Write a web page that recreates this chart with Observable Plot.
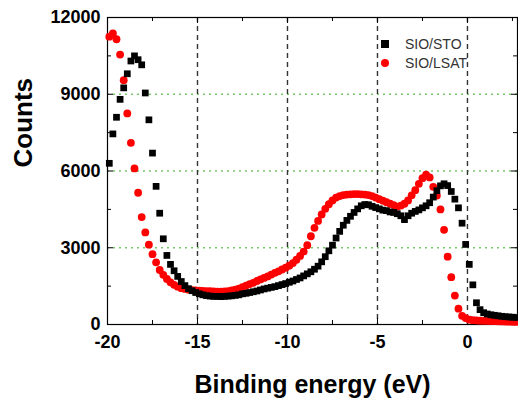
<!DOCTYPE html>
<html><head><meta charset="utf-8">
<script src="https://cdn.jsdelivr.net/npm/d3@7"></script>
<script src="https://cdn.jsdelivr.net/npm/@observablehq/plot@0.6"></script>
<style>
body{margin:0;background:#fff;}
#wrap{position:relative;width:518px;height:405px;font-family:"Liberation Sans",Arial,sans-serif;}
.leg{position:absolute;display:flex;align-items:center;font-size:14px;color:#333;white-space:nowrap;}
.mk{display:inline-block;margin-right:16px;}
</style></head><body><div id="wrap"></div>
<script>
const energy = [
-19.9,-19.7,-19.5,-19.3,-19.1,-18.9,-18.7,-18.5,-18.3,-18.1,
-17.9,-17.7,-17.5,-17.3,-17.1,-16.9,-16.7,-16.5,-16.3,-16.1,
-15.9,-15.7,-15.5,-15.3,-15.1,-14.9,-14.7,-14.5,-14.3,-14.1,
-13.9,-13.7,-13.5,-13.3,-13.1,-12.9,-12.7,-12.5,-12.3,-12.1,
-11.9,-11.7,-11.5,-11.3,-11.1,-10.9,-10.7,-10.5,-10.3,-10.1,
-9.9,-9.7,-9.5,-9.3,-9.1,-8.9,-8.7,-8.5,-8.3,-8.1,
-7.9,-7.7,-7.5,-7.3,-7.1,-6.9,-6.7,-6.5,-6.3,-6.1,
-5.9,-5.7,-5.5,-5.3,-5.1,-4.9,-4.7,-4.5,-4.3,-4.1,
-3.9,-3.7,-3.5,-3.3,-3.1,-2.9,-2.7,-2.5,-2.3,-2.1,
-1.9,-1.7,-1.5,-1.3,-1.1,-0.9,-0.7,-0.5,-0.3,-0.1,
0.1,0.3,0.5,0.7,0.9,1.1,1.3,1.5,1.7,1.9,
2.1,2.3,2.5,2.7];

const stoCounts = [
6300,7450,8100,8800,9250,9800,10300,10500,10350,10150,
9050,8000,6700,5400,4350,3350,2700,2350,2100,1880,
1680,1520,1400,1320,1250,1200,1160,1130,1110,1100,
1100,1090,1100,1110,1120,1140,1160,1200,1220,1250,
1280,1310,1350,1390,1420,1450,1480,1520,1560,1600,
1650,1700,1760,1820,1900,1980,2060,2160,2280,2450,
2650,2880,3100,3380,3640,3880,4070,4230,4380,4520,
4640,4690,4680,4620,4570,4520,4470,4450,4400,4380,
4330,4250,4100,4250,4350,4420,4480,4560,4640,4760,
4980,5230,5420,5500,5430,5200,4900,4560,3960,3130,
2350,1550,850,580,460,410,380,360,340,320,
305,295,285,275];

const lsatCounts = [
11250,11380,11150,10550,9550,8250,7100,6100,5150,4200,
3600,3120,2750,2430,2130,1940,1780,1650,1550,1480,
1420,1390,1360,1340,1330,1320,1310,1300,1300,1290,
1280,1280,1290,1300,1330,1360,1400,1460,1520,1580,
1630,1700,1760,1820,1880,1950,2020,2080,2150,2220,
2300,2400,2530,2680,2850,3100,3450,3780,4050,4300,
4520,4700,4850,4960,5020,5060,5080,5090,5100,5100,
5090,5080,5060,5020,4960,4900,4840,4780,4720,4670,
4610,4650,4720,4850,5050,5250,5500,5720,5860,5750,
5380,5040,4500,3700,2650,1850,1130,620,340,250,
190,170,160,150,145,140,135,130,125,120,
115,110,105,100];

const seriesNames = ["SIO/STO", "SIO/LSAT"];
const seriesColors = ["#000000", "#ff0000"];
const xTicks = [-20, -15, -10, -5, 0];
const xMinor = [-17.5, -12.5, -7.5, -2.5, 2.5];
const yTicks = [0, 3000, 6000, 9000, 12000];
const yMinor = [1500, 4500, 7500, 10500];
const gridX = [-15, -10, -5, 0];
const gridY = [3000, 6000, 9000];
const xLabel = "Binding energy (eV)";
const yLabel = "Counts";

const W = 518, H = 405, mL = 107, mR = 1, mT = 17, mB = 81;
const ph = H - mT - mB, pw = W - mL - mR;
const font = "Liberation Sans, Arial, sans-serif";

const sto = energy.map((e, i) => ({e, c: stoCounts[i]}));
const lsat = energy.map((e, i) => ({e, c: lsatCounts[i]}));

const chart = Plot.plot({
  width: W, height: H,
  marginLeft: mL, marginRight: mR, marginTop: mT, marginBottom: mB,
  style: {fontFamily: font, background: "white", color: "#000"},
  x: {domain: [-20, 2.78]},
  y: {domain: [0, 12000]},
  marks: [
    Plot.ruleY(gridY, {stroke: "#74c965", strokeWidth: 1.4, strokeDasharray: "2,4"}),
    Plot.ruleX(gridX, {stroke: "#333", strokeWidth: 1.4, strokeDasharray: "5,4"}),
    Plot.ruleX(xTicks, {insetTop: ph - 6, stroke: "#000"}),
    Plot.ruleX(xTicks, {insetBottom: ph - 6, stroke: "#000"}),
    Plot.ruleX(xMinor, {insetTop: ph - 4, stroke: "#000"}),
    Plot.ruleX(xMinor, {insetBottom: ph - 4, stroke: "#000"}),
    Plot.ruleY(yTicks, {insetRight: pw - 6, stroke: "#000"}),
    Plot.ruleY(yTicks, {insetLeft: pw - 6, stroke: "#000"}),
    Plot.ruleY(yMinor, {insetRight: pw - 4, stroke: "#000"}),
    Plot.ruleY(yMinor, {insetLeft: pw - 4, stroke: "#000"}),
    Plot.frame({stroke: "#000", strokeWidth: 1.2}),
    Plot.dot(lsat, {x: "e", y: "c", r: 3.9, fill: seriesColors[1], symbol: "circle"}),
    Plot.dot(sto, {x: "e", y: "c", r: 3.8, fill: seriesColors[0], symbol: "square"}),
    Plot.axisX({ticks: xTicks, tickSize: 0, tickPadding: 11, fontSize: 18, fontWeight: "bold", label: null, tickFormat: d => String(d)}),
    Plot.axisY({ticks: yTicks, tickSize: 0, tickPadding: 7, fontSize: 18, fontWeight: "bold", label: null, tickFormat: d => String(d)}),
    Plot.text([xLabel], {text: d => d, frameAnchor: "bottom", dy: 68, lineAnchor: "bottom", fontSize: 25, fontWeight: "bold"}),
    Plot.text([yLabel], {text: d => d, frameAnchor: "left", rotate: -90, dx: -84, dy: -3.5, fontSize: 26, fontWeight: "bold"})
  ]
});

const wrap = document.getElementById("wrap");
wrap.appendChild(chart);

// legend
const legTop = [36, 55];
seriesNames.forEach((name, i) => {
  const d = document.createElement("div");
  d.className = "leg";
  d.style.left = "381px";
  d.style.top = legTop[i] + "px";
  const m = document.createElement("span");
  m.className = "mk";
  m.style.width = "8px"; m.style.height = "8px";
  m.style.background = seriesColors[i];
  if (i === 1) m.style.borderRadius = "50%";
  d.appendChild(m);
  const t = document.createElement("span");
  t.textContent = name;
  d.appendChild(t);
  wrap.appendChild(d);
});
</script>
</body></html>
